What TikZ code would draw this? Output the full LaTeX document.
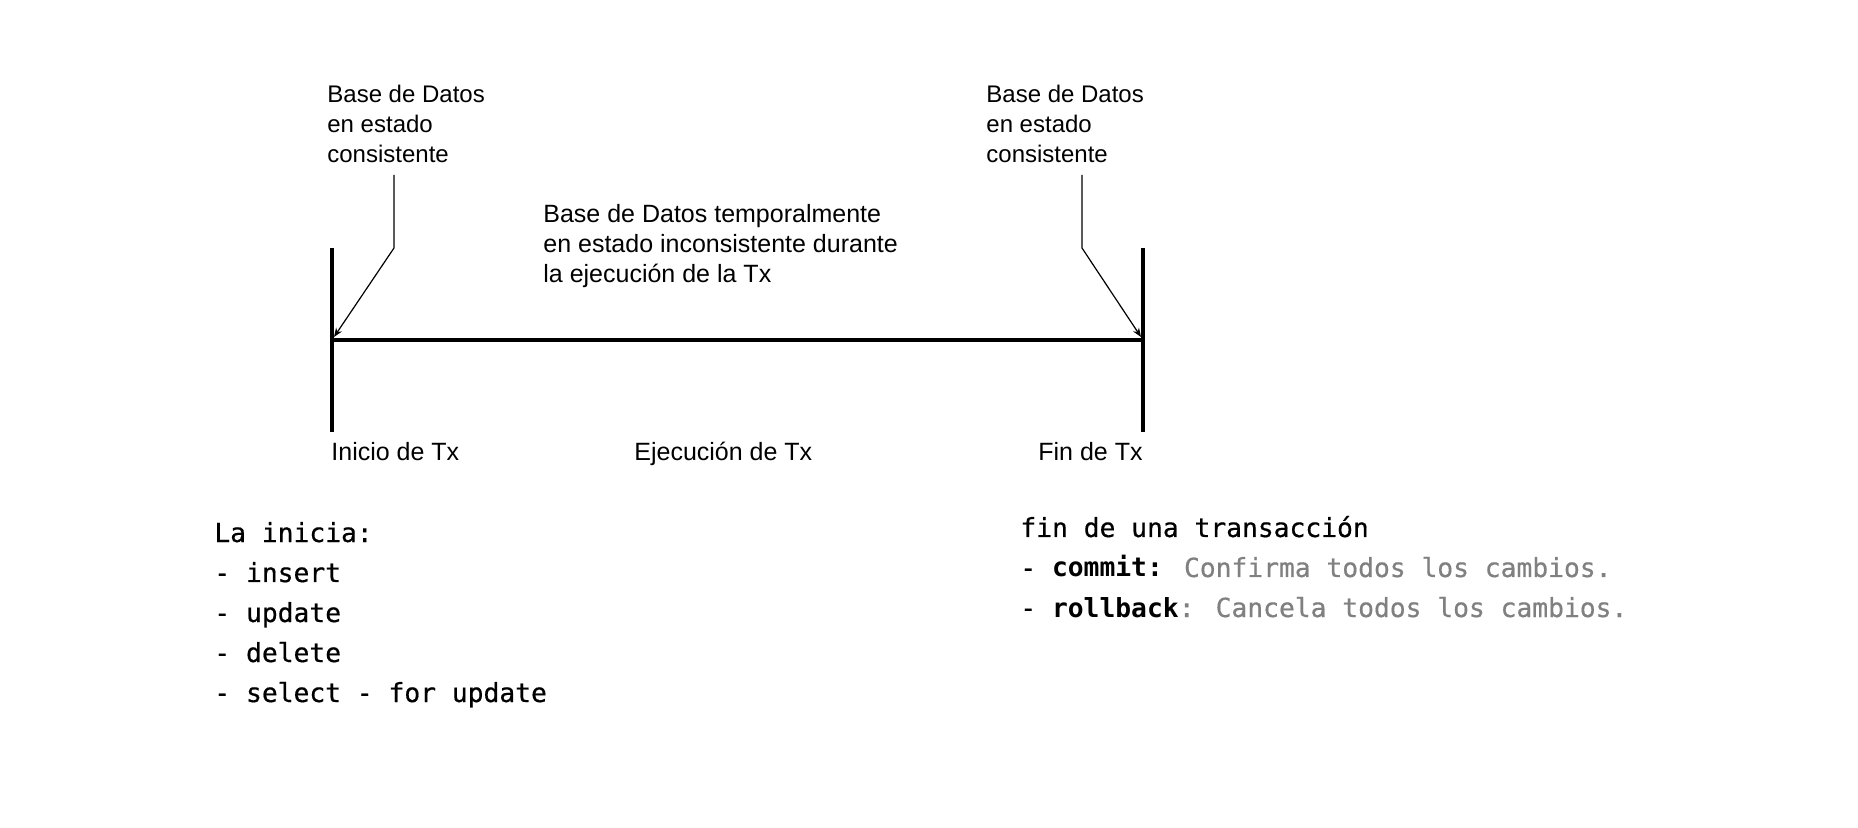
\documentclass[tikz,border=0pt]{standalone}
\usepackage{fontspec}
\setmainfont{Liberation Sans}
\newfontfamily\codefont[FakeBold=0.5]{DejaVu Sans Mono}
\newfontfamily\codeboldfont{DejaVu Sans Mono Bold}
\usetikzlibrary{arrows.meta}
\definecolor{graytxt}{HTML}{808080}
\newcommand{\kw}[1]{{\codeboldfont #1}}
\begin{document}
\begin{tikzpicture}[x=0.5pt,y=-0.5pt,
  lbl/.style={inner sep=0pt, anchor=base west, font=\fontsize{12}{15}\selectfont},
  biglbl/.style={lbl, font=\fontsize{12.5}{15}\selectfont},
  code/.style={inner sep=0pt, anchor=base west, font=\codefont\fontsize{13.15}{20}\selectfont},
  bar/.style={line width=2pt},
  axisline/.style={line width=1.8pt},
  callout/.style={line width=0.6pt, -{Stealth[length=4.5pt,width=3.5pt]}}]
\useasboundingbox[fill=white] (0,0) rectangle (1858,828);

% bars
\coordinate (ltop) at (332,248);
\coordinate (lbot) at (332,432);
\coordinate (rtop) at (1143,248);
\coordinate (rbot) at (1143,432);
\coordinate (laxis) at (332,340);
\coordinate (raxis) at (1143,340);
\draw[bar] (ltop) -- (lbot);
\draw[bar] (rtop) -- (rbot);
\draw[axisline] (laxis) -- (raxis);

% top labels
\node[lbl] (ltext) at (327,103) {\begin{tabular}[t]{@{}l@{}}Base de Datos\\en estado\\consistente\end{tabular}};
\node[lbl] (rtext) at (986,103) {\begin{tabular}[t]{@{}l@{}}Base de Datos\\en estado\\consistente\end{tabular}};
\node[biglbl] (mtext) at (543,223) {\begin{tabular}[t]{@{}l@{}}Base de Datos temporalmente\\en estado inconsistente durante\\la ejecución de la Tx\end{tabular}};

% callouts
\coordinate (lstart) at (394,175);
\coordinate (lbend) at (394,248);
\coordinate (ltip) at (334,337);
\coordinate (rstart) at (1082,175);
\coordinate (rbend) at (1082,248);
\coordinate (rtip) at (1141,337);
\draw[callout] (lstart) -- (lbend) -- (ltip);
\draw[callout] (rstart) -- (rbend) -- (rtip);

% bottom labels
\node[biglbl] (inicio) at (331,461) {Inicio de Tx};
\node[biglbl] (ejec) at (634,461) {Ejecución de Tx};
\node[biglbl] (fin) at (1038,461) {Fin de Tx};

% code blocks
\node[code] (inicia) at (214,542) {\begin{tabular}[t]{@{}l@{}}La inicia:\\- insert\\- update\\- delete\\- select - for update\end{tabular}};
\node[code] (fintx) at (1020,537) {\begin{tabular}[t]{@{}l@{}}fin de una transacción\\- \kw{commit:} \textcolor{graytxt}{Confirma todos los cambios.}\\- \kw{rollback}\textcolor{graytxt}{: Cancela todos los cambios.}\end{tabular}};
\end{tikzpicture}
\end{document}
